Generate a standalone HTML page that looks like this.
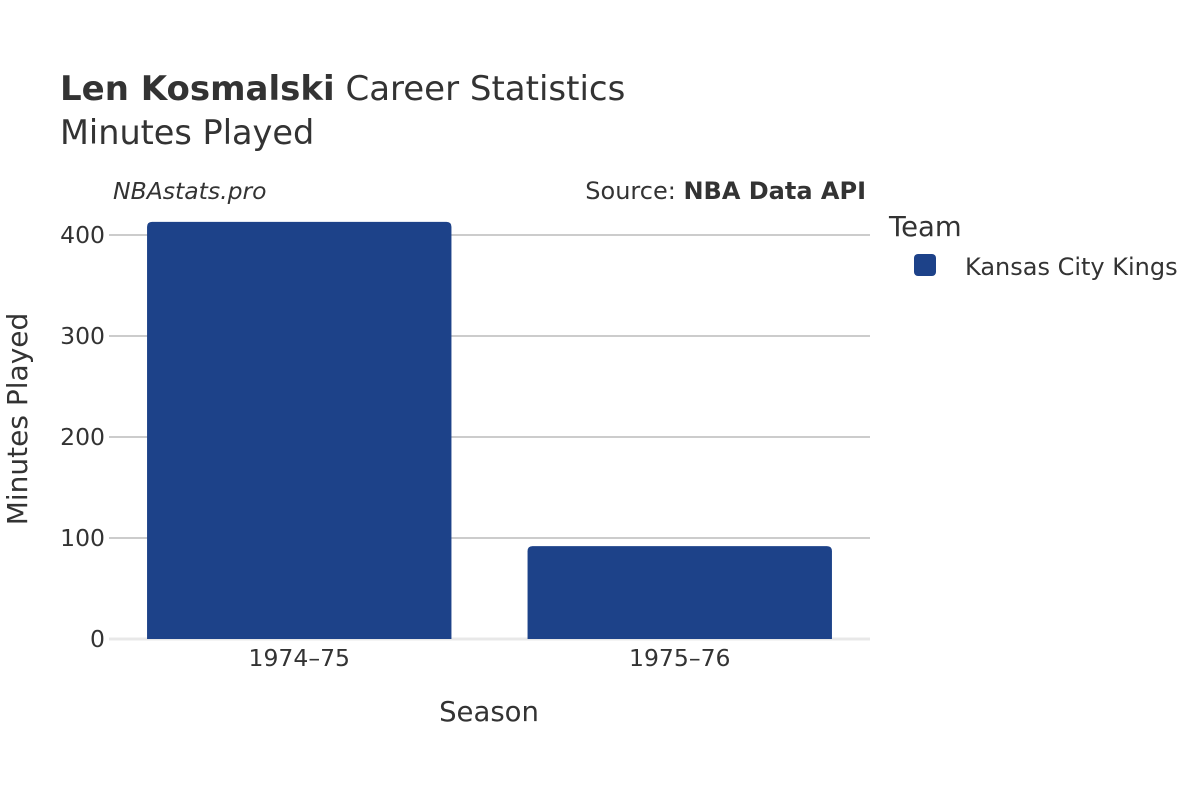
<!DOCTYPE html>
<html><head><meta charset="utf-8"><style>
body{margin:0;background:#fff;font-family:"Liberation Sans","DejaVu Sans",sans-serif;}
svg text{font-family:"DejaVu Sans","Liberation Sans",sans-serif;fill:#333;}
</style></head><body>
<svg id="chart" width="1200" height="800">
<text x="60" y="100" font-size="34"><tspan font-weight="bold">Len Kosmalski</tspan> Career Statistics</text>
<text x="60" y="144" font-size="33.5">Minutes Played</text>
<text x="113" y="199" font-size="23.5" font-style="italic">NBAstats.pro</text>
<text x="866" y="199" font-size="24" text-anchor="end">Source: <tspan font-weight="bold">NBA Data API</tspan></text>
<g id="grid"></g>
<g id="bars"></g>
<g id="xt"></g>
<text x="489" y="721" font-size="27.5" text-anchor="middle">Season</text>
<text transform="translate(27,419) rotate(-90)" font-size="28" text-anchor="middle">Minutes Played</text>
<text x="889" y="236" font-size="27.5">Team</text>
<rect x="914" y="254" width="22" height="22" rx="4" fill="#1d4289"/>
<text x="965" y="275" font-size="24">Kansas City Kings</text>
</svg>
<script>
const categories=["1974–75","1975–76"];
const minutes=[413,92];
const yTicks=[0,100,200,300,400];
const ns="http://www.w3.org/2000/svg";
const x0=109,x1=870,y0=639,pxPer=1.01;
const y=v=>y0-v*pxPer;
const band=(x1-x0)/categories.length;
const grid=document.getElementById('grid'),bars=document.getElementById('bars'),xt=document.getElementById('xt');
function mk(t,a){const e=document.createElementNS(ns,t);for(const k in a)e.setAttribute(k,a[k]);return e;}
yTicks.forEach(v=>{
  const l=mk('line',{x1:x0,x2:x1,y1:y(v),y2:y(v),stroke:v===0?'#e8e8e8':'#999','stroke-width':v===0?3:1});
  
  
  grid.appendChild(l);
  const t=mk('text',{x:105,y:y(v)+8,'font-size':23.5,'text-anchor':'end'});
  t.textContent=v;
  
  
  grid.appendChild(t);
});
categories.forEach((c,i)=>{
  const bw=band*0.8,bx=x0+band*i+band*0.1,top=y(minutes[i]);
  const p=mk('path',{d:`M${bx},${y0}V${top+5}Q${bx},${top} ${bx+5},${top}H${bx+bw-5}Q${bx+bw},${top} ${bx+bw},${top+5}V${y0}Z`,fill:'#1d4289'});
  
  
  bars.appendChild(p);
  const t=mk('text',{x:x0+band*(i+0.5),y:666,'font-size':23.5,'text-anchor':'middle'});
  t.textContent=c;
  
  
  xt.appendChild(t);
});
</script>
</body></html>
